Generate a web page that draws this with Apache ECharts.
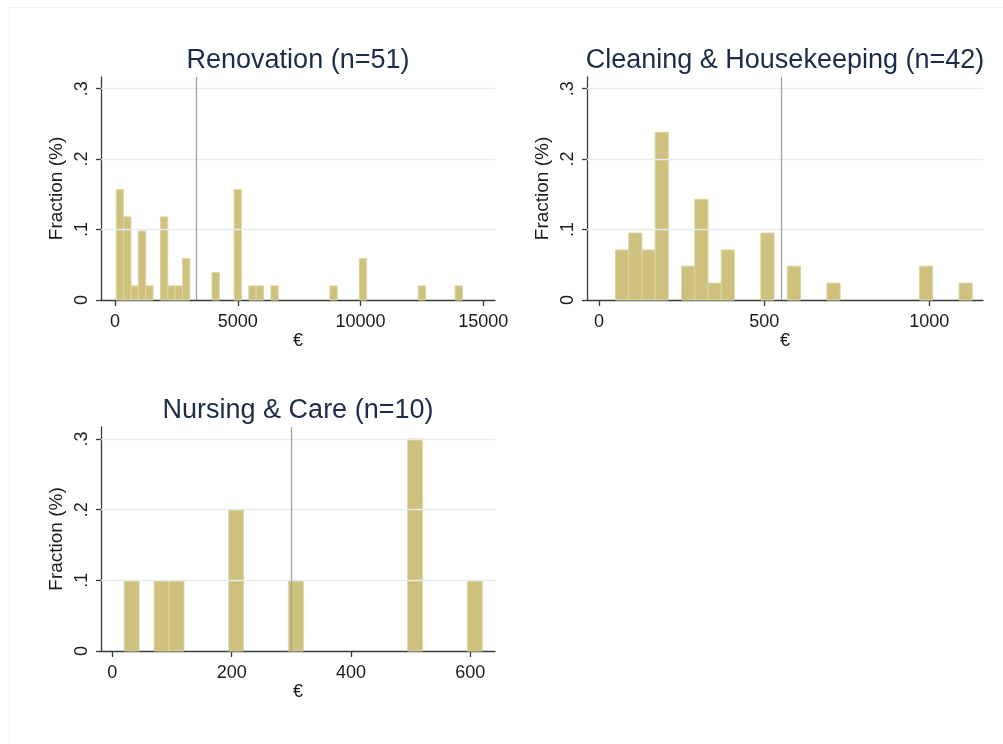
<!DOCTYPE html>
<html>
<head>
<meta charset="utf-8">
<script src="https://cdn.jsdelivr.net/npm/echarts@6/dist/echarts.min.js"></script>
<style>
  html, body { margin: 0; padding: 0; background: #fff; }
  #chart { width: 1003px; height: 744px; }
</style>
</head>
<body>
<div id="chart"></div>
<script>
// Histogram data: lower bin edge (EUR) and fraction of observations per bin
const renovationEdges = [50, 350, 650, 950, 1250, 1850, 2150, 2450, 2750, 3950, 4850, 5450, 5750, 6350, 8750, 9950, 12350, 13850];
const renovationFrac  = [0.157, 0.118, 0.020, 0.098, 0.020, 0.118, 0.020, 0.020, 0.059, 0.039, 0.157, 0.020, 0.020, 0.020, 0.020, 0.059, 0.020, 0.020];
const renovationBin = 300;
const renovationMean = 3300;

const cleaningEdges = [50, 90, 130, 170, 250, 290, 330, 370, 490, 570, 690, 970, 1090];
const cleaningFrac  = [0.071, 0.095, 0.071, 0.238, 0.048, 0.143, 0.024, 0.071, 0.095, 0.048, 0.024, 0.048, 0.024];
const cleaningBin = 40;
const cleaningMean = 553;

const nursingEdges = [20, 70, 95, 195, 295, 495, 595];
const nursingFrac  = [0.1, 0.1, 0.1, 0.2, 0.1, 0.3, 0.1];
const nursingBin = 25;
const nursingMean = 300;

const titles = ['Renovation (n=51)', 'Cleaning & Housekeeping (n=42)', 'Nursing & Care (n=10)'];
const xTicks = [[0, 5000, 10000, 15000], [0, 500, 1000], [0, 200, 400, 600]];
const yTicks = [0, 0.1, 0.2, 0.3];
const yTickText = { 0: '0', 0.1: '.1', 0.2: '.2', 0.3: '.3' };

const FONT = '"Liberation Sans", Arial, sans-serif';
const BAR_FILL = '#cdc17d';
const BAR_EDGE = '#ddd5a3';
const AXIS_COLOR = '#3a3a3a';
const GRID_COLOR = '#e5edf1';

// plot regions in pixels
const grids = [
  { left: 101, top: 77, width: 394, height: 223 },
  { left: 587, top: 77, width: 396, height: 223 },
  { left: 101, top: 427, width: 394, height: 224 }
];
const xRanges = [[-570, 15475], [-36.3, 1162.5], [-19, 641.3]];
const yMax = [0.3165, 0.3165, 0.317];

function histRenderer(binWidth) {
  return function (params, api) {
    const lo = api.value(0);
    const h = api.value(1);
    const p0 = api.coord([lo, 0]);
    const p1 = api.coord([lo + binWidth, h]);
    return {
      type: 'rect',
      shape: { x: p0[0], y: p1[1], width: p1[0] - p0[0], height: p0[1] - p1[1] },
      style: { fill: BAR_FILL, stroke: BAR_EDGE, lineWidth: 1 }
    };
  };
}

const panels = [
  { edges: renovationEdges, frac: renovationFrac, bin: renovationBin, mean: renovationMean },
  { edges: cleaningEdges, frac: cleaningFrac, bin: cleaningBin, mean: cleaningMean },
  { edges: nursingEdges, frac: nursingFrac, bin: nursingBin, mean: nursingMean }
];

const xAxes = panels.map((p, i) => ({
  type: 'value',
  gridIndex: i,
  min: xRanges[i][0],
  max: xRanges[i][1],
  name: '€',
  nameLocation: 'middle',
  nameGap: 30,
  nameTextStyle: { fontFamily: FONT, fontSize: 18, color: '#1a1a1a' },
  axisLine: { show: true, onZero: false, lineStyle: { color: AXIS_COLOR, width: 1.3 } },
  axisTick: { show: true, length: 6, customValues: xTicks[i], lineStyle: { color: AXIS_COLOR, width: 1.3 } },
  axisLabel: { customValues: xTicks[i], margin: 13, fontFamily: FONT, fontSize: 18, color: '#1a1a1a', formatter: v => String(v) },
  splitLine: { show: false }
}));

const yAxes = panels.map((p, i) => ({
  type: 'value',
  gridIndex: i,
  min: 0,
  max: yMax[i],
  name: 'Fraction (%)',
  nameLocation: 'middle',
  nameRotate: 90,
  nameGap: 35,
  nameTextStyle: { fontFamily: FONT, fontSize: 19, color: '#1a1a1a' },
  axisLine: { show: true, onZero: false, lineStyle: { color: AXIS_COLOR, width: 1.3 } },
  axisTick: { show: true, length: 5, customValues: yTicks, lineStyle: { color: AXIS_COLOR, width: 1.3 } },
  axisLabel: {
    customValues: yTicks,
    rotate: 90,
    margin: 10,
    fontFamily: FONT, fontSize: 18, color: '#1a1a1a',
    formatter: v => yTickText[Math.round(v * 10) / 10] ?? ''
  },
  splitLine: { show: false }
}));

const series = [];
panels.forEach((p, i) => {
  // horizontal reference lines at the y ticks
  series.push({
    type: 'line', xAxisIndex: i, yAxisIndex: i, data: [], silent: true, z: 1,
    markLine: {
      silent: true, symbol: 'none', label: { show: false },
      lineStyle: { color: GRID_COLOR, width: 1.3, type: 'solid' },
      data: yTicks.slice(1).map(v => ({ yAxis: v }))
    }
  });
  series.push({
    type: 'custom',
    xAxisIndex: i, yAxisIndex: i, z: 2,
    renderItem: histRenderer(p.bin),
    encode: { x: 0, y: 1 },
    data: p.edges.map((e, k) => [e, p.frac[k]])
  });
  // vertical line at the mean
  series.push({
    type: 'line', xAxisIndex: i, yAxisIndex: i, data: [], silent: true, z: 3,
    markLine: {
      silent: true, symbol: 'none', label: { show: false },
      lineStyle: { color: '#a3a3a3', width: 1.3, type: 'solid' },
      data: [{ xAxis: p.mean }]
    }
  });
});

const graphic = [
  { type: 'rect', shape: { x: 9.5, y: 7.5, width: 1010, height: 760 }, style: { fill: 'none', stroke: '#f2f2f2', lineWidth: 1 }, silent: true }
];
grids.forEach((g, i) => {
  graphic.push({
    type: 'text',
    x: g.left + g.width / 2,
    y: g.top - 16,
    style: { text: titles[i], fontFamily: FONT, fontSize: 27, fill: '#1c2b4a', align: 'center', verticalAlign: 'middle' },
    silent: true
  });
});

const chart = echarts.init(document.getElementById('chart'), null, { renderer: 'canvas' });
chart.setOption({
  animation: false,
  backgroundColor: '#ffffff',
  grid: grids,
  xAxis: xAxes,
  yAxis: yAxes,
  series: series,
  graphic: graphic
});
</script>
</body>
</html>
